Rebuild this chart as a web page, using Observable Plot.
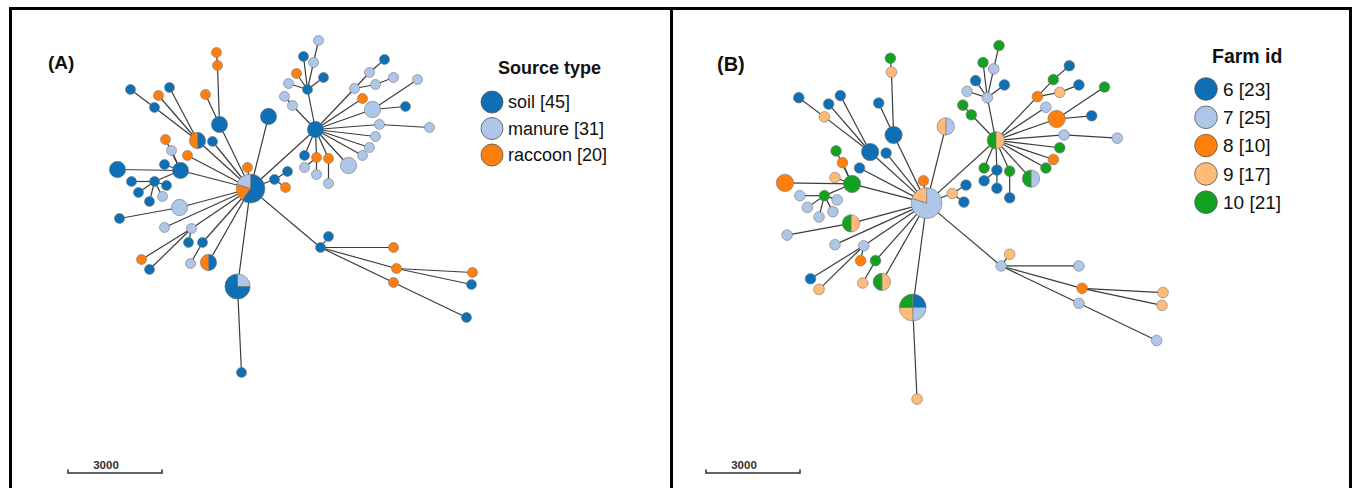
<!DOCTYPE html>
<html><head><meta charset="utf-8">
<script src="https://cdn.jsdelivr.net/npm/d3@7"></script>
<script src="https://cdn.jsdelivr.net/npm/@observablehq/plot@0.6"></script>
<style>
html,body{margin:0;padding:0;background:#fff;}
#fig{position:relative;width:1354px;height:488px;overflow:hidden;background:#fff;font-family:"Liberation Sans",Arial,Helvetica,sans-serif;}
#fig svg{position:absolute;}
</style></head><body><div id="fig"></div>
<script>
// ---------- data ----------
const sourceTypes = ["soil", "manure", "raccoon"];
const sourceCounts = [45, 31, 20];
const sourceColors = ["#0f6fb5", "#aec7e8", "#ff7f0e"];
const farmIds = ["6", "7", "8", "9", "10"];
const farmCounts = [23, 25, 10, 17, 21];
const farmColors = ["#0f6fb5", "#aec7e8", "#ff7f0e", "#ffbb78", "#14a020"];

// minimum spanning tree layout (layout units), node -> parent node
const nodeX = [250,219,217,216,205,268,197,154,130,158,169,212,187,180,165,171,117,164,154,131,138,149,166,162,179,119,164,191,141,149,188,202,190,208,237,241,247,274,287,285,315,307,303,313,318,296,288,323,292,284,354,369,384,375,393,362,372,417,405,379,429,375,369,362,348,304,316,328,304,316,328,320,328,393,396,393,472,471,466];
const nodeY = [188,124,65,52,94,116,140,107,89,95,87,141,155,170,139,150,169,164,181,181,192,201,185,196,207,218,227,228,259,269,242,242,263,262,286,372,167,179,171,187,129,89,56,62,40,73,83,77,105,96,88,72,59,84,77,98,109,79,106,124,127,136,147,155,165,155,157,158,167,174,183,247,236,247,268,282,272,284,317];
const nodeParent = [-1,0,1,2,1,0,0,6,7,6,6,0,0,0,13,13,13,13,13,18,18,18,18,18,0,24,0,0,27,27,27,0,31,0,0,34,0,0,37,37,0,40,41,41,43,41,41,41,40,48,40,50,51,50,53,40,40,56,56,40,59,40,40,40,40,40,40,40,66,66,67,0,71,71,71,71,74,74,75];
// isolates of each node, clockwise from 12 o'clock (s = soil, m = manure, r = raccoon)
const nodeSource = ["sssrm","ss","r","r","r","ss","sr","s","s","r","s","s","r","ss","r","m","ss","s","s","s","s","s","s","m","mm","s","m","m","r","s","s","s","m","sr","msss","s","r","s","s","r","ss","s","s","m","m","r","m","s","m","m","m","m","s","m","m","r","mm","m","s","m","m","m","m","m","mm","s","r","r","m","m","m","s","s","r","r","r","r","s","s"];
// farm id of each isolate, clockwise from 12 o'clock
const nodeFarm = [[7,7,7,7,9],[6,6],[9],[10],[6],[7,9],[6,6],[9],[6],[6],[6],[6],[6],[10,10],[10],[8],[8,8],[9],[10],[7],[7],[7],[7],[7],[9,10],[7],[7],[7],[6],[9],[8],[10],[9],[9,10],[6,7,9,10],[9],[8],[9],[6],[6],[9,10],[7],[10],[7],[10],[6],[7],[6],[10],[10],[8],[10],[6],[9],[6],[7],[8,8],[10],[6],[7],[7],[10],[8],[10],[7,10],[10],[6],[10],[6],[6],[6],[7],[9],[7],[8],[7],[9],[9],[7]];
const scaleBarLabel = "3000";

// ---------- helpers ----------
const codeToSource = {s: "soil", m: "manure", r: "raccoon"};
function runs(mix) {
  const out = []; const n = mix.length; let i = 0;
  while (i < n) { let j = i; while (j < n && mix[j] === mix[i]) j++; out.push({cat: mix[i], f0: i / n, f1: j / n}); i = j; }
  return out;
}
const symbolCache = new Map();
function wedgeSymbol(f0, f1) {
  const key = f0 + ":" + f1;
  if (!symbolCache.has(key)) {
    const a0 = -Math.PI / 2 + 2 * Math.PI * f0, a1 = -Math.PI / 2 + 2 * Math.PI * f1;
    symbolCache.set(key, {draw(ctx, size) {
      const r = Math.sqrt(size / Math.PI);
      if (f1 - f0 >= 1) { ctx.moveTo(r, 0); ctx.arc(0, 0, r, 0, 2 * Math.PI); ctx.closePath(); return; }
      ctx.moveTo(0, 0); ctx.arc(0, 0, r, a0, a1); ctx.closePath();
    }});
  }
  return symbolCache.get(key);
}
function wedgeData(mixOf) {
  const out = [];
  nodeX.forEach((x, i) => {
    const mix = mixOf(i);
    for (const w of runs(mix)) out.push({x, y: nodeY[i], n: mix.length, cat: w.cat, symbol: wedgeSymbol(w.f0, w.f1)});
  });
  return out;
}
const edges = nodeParent.map((p, i) => ({p, i})).filter(d => d.p >= 0);

const fig = document.getElementById("fig");
const anchor = [294.5, 40];

function drawPanel({left, top, width, height, pageAnchor, zoom, colorDomain, colorRange, mixOf}) {
  const xDomain = [anchor[0] + (left - pageAnchor[0]) / zoom, anchor[0] + (left + width - pageAnchor[0]) / zoom];
  const yDomain = [anchor[1] + (top - pageAnchor[1]) / zoom, anchor[1] + (top + height - pageAnchor[1]) / zoom];
  const svg = Plot.plot({
    width, height, margin: 0,
    style: {background: "transparent", overflow: "visible"},
    x: {domain: xDomain, range: [0, width], axis: null},
    y: {domain: yDomain, range: [0, height], axis: null},
    r: {type: "pow", exponent: 0.5, domain: [1, 5], range: [5 * zoom, 14.4 * zoom]},
    color: {domain: colorDomain, range: colorRange},
    marks: [
      Plot.link(edges, {x1: d => nodeX[d.p], y1: d => nodeY[d.p], x2: d => nodeX[d.i], y2: d => nodeY[d.i], stroke: "#3c3c3c", strokeWidth: 1.2}),
      Plot.dot(wedgeData(mixOf), {x: "x", y: "y", r: "n", fill: "cat", symbol: d => d.symbol, stroke: "#777", strokeWidth: 0.6})
    ]
  });
  svg.style.left = left + "px";
  svg.style.top = top + "px";
  fig.appendChild(svg);
}

drawPanel({left: 12, top: 10, width: 658, height: 478, pageAnchor: [294.5, 40], zoom: 1,
  colorDomain: sourceTypes, colorRange: sourceColors,
  mixOf: i => Array.from(nodeSource[i], c => codeToSource[c])});
drawPanel({left: 673, top: 10, width: 676, height: 478, pageAnchor: [973.5, 45], zoom: 1.065,
  colorDomain: farmIds, colorRange: farmColors,
  mixOf: i => nodeFarm[i].map(String)});

// ---------- frame, labels, legends, scale bars ----------
const ov = d3.create("svg").attr("width", 1354).attr("height", 488).style("left", "0px").style("top", "0px")
  .attr("font-family", "Liberation Sans, Arial, Helvetica, sans-serif");
ov.append("path").attr("fill", "none").attr("stroke", "#000").attr("stroke-width", 3)
  .attr("d", "M10.5,488V8.5H1350.5V488M671.5,8.5V488");

function label(x, y, text, size, bold, anchor = "start") {
  ov.append("text").attr("x", x).attr("y", y).attr("font-size", size).attr("font-weight", bold ? "bold" : "normal")
    .attr("text-anchor", anchor).attr("fill", "#111").text(text);
}
label(48, 69, "(A)", 19, true);
label(717, 71, "(B)", 20, true);

function legend(title, cats, counts, colors, {cx, titleX, titleY, y0, dy, r, textX, size, titleSize}) {
  label(titleX, titleY, title, titleSize, true);
  cats.forEach((c, i) => {
    const cy = y0 + i * dy;
    ov.append("circle").attr("cx", cx).attr("cy", cy).attr("r", r).attr("fill", colors[i]).attr("stroke", "#555").attr("stroke-width", 0.8);
    label(textX, cy + size * 0.35, `${c} [${counts[i]}]`, size, false);
  });
}
legend("Source type", sourceTypes, sourceCounts, sourceColors,
  {cx: 492, titleX: 498, titleY: 74, y0: 102, dy: 26.5, r: 11, textX: 508, size: 18, titleSize: 18});
legend("Farm id", farmIds, farmCounts, farmColors,
  {cx: 1206, titleX: 1212, titleY: 63, y0: 89, dy: 28.3, r: 11.3, textX: 1223, size: 19, titleSize: 19.5});

function scaleBar(x0, x1, y, labelX) {
  ov.append("path").attr("fill", "none").attr("stroke", "#333").attr("stroke-width", 1.6)
    .attr("d", `M${x0},${y - 3.5}V${y}H${x1}V${y - 3.5}`);
  ov.append("text").attr("x", labelX).attr("y", y - 4).attr("text-anchor", "middle").attr("font-size", 11.5)
    .attr("font-weight", "bold").attr("fill", "#333").text(scaleBarLabel);
}
scaleBar(68, 162, 473, 106);
scaleBar(706, 800, 473, 744);

fig.appendChild(ov.node());
</script></body></html>
